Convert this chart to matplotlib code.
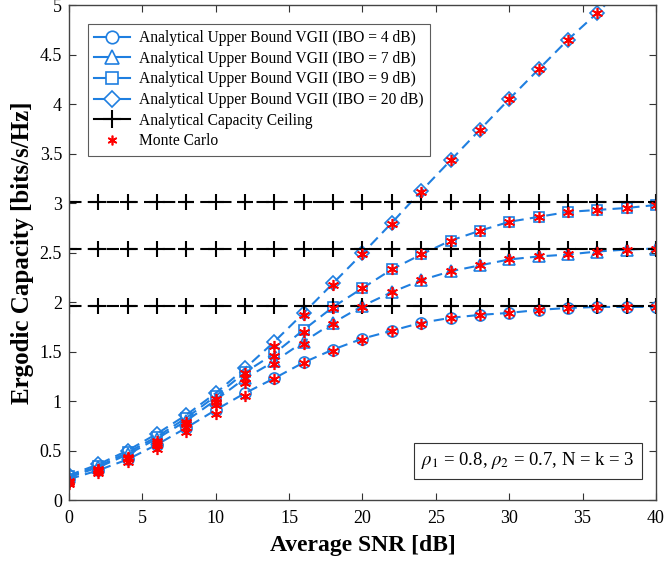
import matplotlib
matplotlib.use("Agg")
import matplotlib.pyplot as plt
from matplotlib.lines import Line2D
import numpy as np

plt.rcParams['font.family'] = ['Liberation Serif', 'DejaVu Serif']
plt.rcParams['mathtext.fontset'] = 'stix'

snr = [0, 2, 4, 6, 8, 10, 12, 14, 16, 18, 20, 22, 24, 26, 28, 30, 32, 34, 36, 38, 40]

ub_ibo4 = [0.21, 0.30, 0.41, 0.56, 0.73, 0.91, 1.08, 1.23, 1.39, 1.52, 1.63, 1.71, 1.79, 1.84, 1.87, 1.89, 1.92, 1.94, 1.95, 1.95, 1.95]
ub_ibo7 = [0.23, 0.33, 0.46, 0.62, 0.80, 1.01, 1.23, 1.40, 1.60, 1.79, 1.96, 2.10, 2.22, 2.31, 2.37, 2.43, 2.46, 2.48, 2.51, 2.53, 2.54]
ub_ibo9 = [0.24, 0.34, 0.48, 0.64, 0.83, 1.05, 1.29, 1.48, 1.72, 1.95, 2.14, 2.33, 2.48, 2.62, 2.72, 2.81, 2.86, 2.91, 2.93, 2.95, 2.98]
ub_ibo20 = [0.25, 0.36, 0.50, 0.67, 0.86, 1.08, 1.33, 1.60, 1.89, 2.19, 2.49, 2.80, 3.12, 3.43, 3.74, 4.05, 4.35, 4.65, 4.92, 5.22, 5.52]

ceil_ibo4 = [1.96] * 21
ceil_ibo7 = [2.54] * 21
ceil_ibo9 = [3.01] * 21

mc_ibo4 = [0.16, 0.27, 0.38, 0.52, 0.69, 0.87, 1.05, 1.22, 1.38, 1.51, 1.62, 1.71, 1.78, 1.84, 1.87, 1.89, 1.92, 1.94, 1.95, 1.95, 1.95]
mc_ibo7 = [0.18, 0.29, 0.41, 0.56, 0.74, 0.96, 1.18, 1.37, 1.58, 1.78, 1.95, 2.10, 2.22, 2.31, 2.37, 2.43, 2.46, 2.48, 2.51, 2.53, 2.54]
mc_ibo9 = [0.18, 0.30, 0.42, 0.58, 0.77, 0.99, 1.23, 1.45, 1.70, 1.94, 2.14, 2.33, 2.48, 2.62, 2.72, 2.81, 2.86, 2.91, 2.93, 2.95, 2.98]
mc_ibo20 = [0.19, 0.31, 0.43, 0.60, 0.79, 1.02, 1.28, 1.56, 1.87, 2.17, 2.48, 2.79, 3.11, 3.43, 3.74, 4.05, 4.35, 4.65, 4.92, 5.22, 5.52]

labels = ['Analytical Upper Bound VGII (IBO = 4 dB)',
          'Analytical Upper Bound VGII (IBO = 7 dB)',
          'Analytical Upper Bound VGII (IBO = 9 dB)',
          'Analytical Upper Bound VGII (IBO = 20 dB)']

blue = '#1f7fe0'
fig = plt.figure(figsize=(6.67, 5.63), dpi=100)
ax = fig.add_axes([0.1034, 0.1119, 0.8801, 0.8792])

markers = ['o', '^', 's', 'D']
msizes = [8, 9, 7, 7]
handles = []
for ys, m, ms, lab in zip([ub_ibo4, ub_ibo7, ub_ibo9, ub_ibo20], markers, msizes, labels):
    ax.plot(snr, ys, linestyle=(0, (5, 3)), color=blue, lw=1.5, marker=m, ms=ms,
            mfc='none', mec=blue, mew=1.2)
    handles.append(Line2D([], [], color=blue, lw=1.5, marker=m, ms=ms + 1, mfc='white',
                          mec=blue, mew=1.2, label=lab))

for ys in [ceil_ibo4, ceil_ibo7, ceil_ibo9]:
    ax.plot(snr, ys, linestyle=(0, (6, 3)), color='black', lw=1.5, marker='+', ms=11, mew=1.5)
handles.append(Line2D([], [], color='black', lw=1.5, marker='+', ms=13, mew=1.5,
                      label='Analytical Capacity Ceiling'))

for ys in [mc_ibo4, mc_ibo7, mc_ibo9, mc_ibo20]:
    ax.plot(snr, ys, linestyle='none', color='red', marker=(6, 2, 0), ms=8, mew=1.2)
handles.append(Line2D([], [], linestyle='none', color='red', marker=(6, 2, 0), ms=7, mew=1.2,
                      label='Monte Carlo'))

ax.set_xlim(0, 40)
ax.set_ylim(0, 5)
ax.set_xticks(np.arange(0, 41, 5))
ax.set_yticks(np.arange(0, 5.01, 0.5))
ax.set_yticklabels(['0', '0.5', '1', '1.5', '2', '2.5', '3', '3.5', '4', '4.5', '5'])
ax.tick_params(direction='in', top=True, right=True, labelsize=13, length=5, width=0.8, color='#333333')
ax.tick_params(axis='x', pad=7)
ax.tick_params(axis='y', pad=5)
for s in ax.spines.values():
    s.set_color('#444444')
    s.set_linewidth(1.0)

ax.set_xlabel('Average SNR [dB]', fontsize=17, fontweight='bold', labelpad=6)
ax.set_ylabel('Ergodic Capacity [bits/s/Hz]', fontsize=18, fontweight='bold', labelpad=4)

leg = ax.legend(handles=handles, loc='upper left', bbox_to_anchor=(0.032, 0.962), fontsize=11.2,
                frameon=True, fancybox=False, edgecolor='#333333', handlelength=2.3,
                borderpad=0.4, labelspacing=0.3, handletextpad=0.6, borderaxespad=0,
                numpoints=1)
leg.get_frame().set_linewidth(0.8)

ax.text(0.6, 0.079, r'$\rho_1$ = 0.8, $\rho_2$ = 0.7, N = k = 3', transform=ax.transAxes,
        fontsize=13.5, va='center', ha='left',
        bbox=dict(boxstyle='square,pad=0.4', fc='white', ec='#333333', lw=0.8))

fig.savefig('out.png', dpi=100)
